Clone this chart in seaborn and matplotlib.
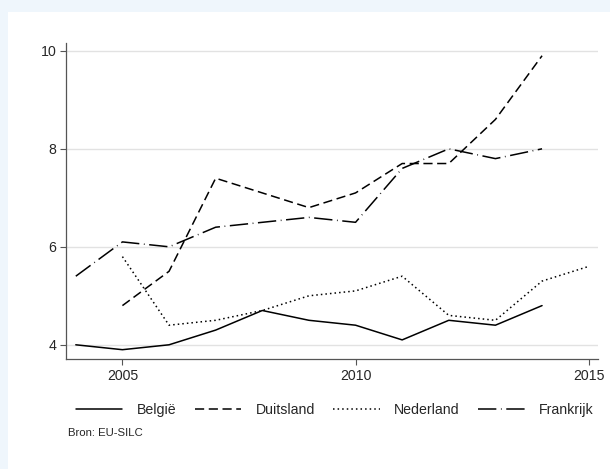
import numpy as np
import pandas as pd
import matplotlib
matplotlib.use("Agg")
import matplotlib.pyplot as plt
import seaborn as sns
from matplotlib.patches import Rectangle

# =========================
# DATA
# =========================
years = [2004, 2005, 2006, 2007, 2008, 2009, 2010, 2011, 2012, 2013, 2014, 2015]
belgie = [4.0, 3.9, 4.0, 4.3, 4.7, 4.5, 4.4, 4.1, 4.5, 4.4, 4.8, np.nan]
duitsland = [np.nan, 4.8, 5.5, 7.4, 7.1, 6.8, 7.1, 7.7, 7.7, 8.6, 9.9, np.nan]
nederland = [np.nan, 5.8, 4.4, 4.5, 4.7, 5.0, 5.1, 5.4, 4.6, 4.5, 5.3, 5.6]
frankrijk = [5.4, 6.1, 6.0, 6.4, 6.5, 6.6, 6.5, 7.6, 8.0, 7.8, 8.0, np.nan]
countries = ["België", "Duitsland", "Nederland", "Frankrijk"]
x_ticks = [2005, 2010, 2015]
y_ticks = [4, 6, 8, 10]
source_note = "Bron: EU-SILC"

df = pd.DataFrame({"jaar": years, "België": belgie, "Duitsland": duitsland,
                   "Nederland": nederland, "Frankrijk": frankrijk})
long = df.melt(id_vars="jaar", var_name="land", value_name="waarde").dropna()

# =========================
# PLOT
# =========================
sns.set_style("white")
plt.rcParams["font.family"] = ["Liberation Sans", "DejaVu Sans"]

fig = plt.figure(figsize=(6.10, 4.69), dpi=100)
fig.patch.set_facecolor("#eff6fc")
# white inner panel (Stata-like graph region)
fig.patches.append(Rectangle((8 / 610, 0), 1, 1 - 12 / 469, transform=fig.transFigure,
                             facecolor="white", edgecolor="none", zorder=-10))

ax = fig.add_axes([66 / 610, 1 - 359 / 469, (598 - 66) / 610, (359 - 43) / 469])
ax.set_facecolor("white")

dashes = {
    "België": "",
    "Duitsland": (6, 3),
    "Nederland": (1, 2),
    "Frankrijk": (12, 3, 0.5, 3),
}
sns.lineplot(data=long, x="jaar", y="waarde", hue="land", style="land",
             hue_order=countries, style_order=countries,
             palette=["black"] * 4, dashes=dashes, linewidth=1.1, ax=ax)

ax.set_xlim(2003.79, 2015.2)
ax.set_ylim(3.71, 10.16)
ax.set_xticks(x_ticks)
ax.set_yticks(y_ticks)
ax.set_xlabel("")
ax.set_ylabel("")
ax.yaxis.grid(True, color="#e2e2e2", linewidth=1.0)
ax.xaxis.grid(False)
for side in ["top", "right"]:
    ax.spines[side].set_visible(False)
for side in ["left", "bottom"]:
    ax.spines[side].set_color("#555555")
    ax.spines[side].set_linewidth(0.9)
ax.tick_params(axis="both", which="major", direction="out", length=4, width=0.8,
               color="#555555", labelsize=10.2, pad=3, left=True, bottom=True)

handles, labels = ax.get_legend_handles_labels()
ax.legend(handles, labels, loc="upper center", bbox_to_anchor=(0.505, -0.1),
          ncol=4, frameon=False, fontsize=10.2, handlelength=3.3,
          columnspacing=1.3, handletextpad=1.0)

fig.text(68 / 610, 1 - 433 / 469, source_note, fontsize=8.2, va="center", ha="left")

fig.savefig("out.png", dpi=100, facecolor=fig.get_facecolor())
